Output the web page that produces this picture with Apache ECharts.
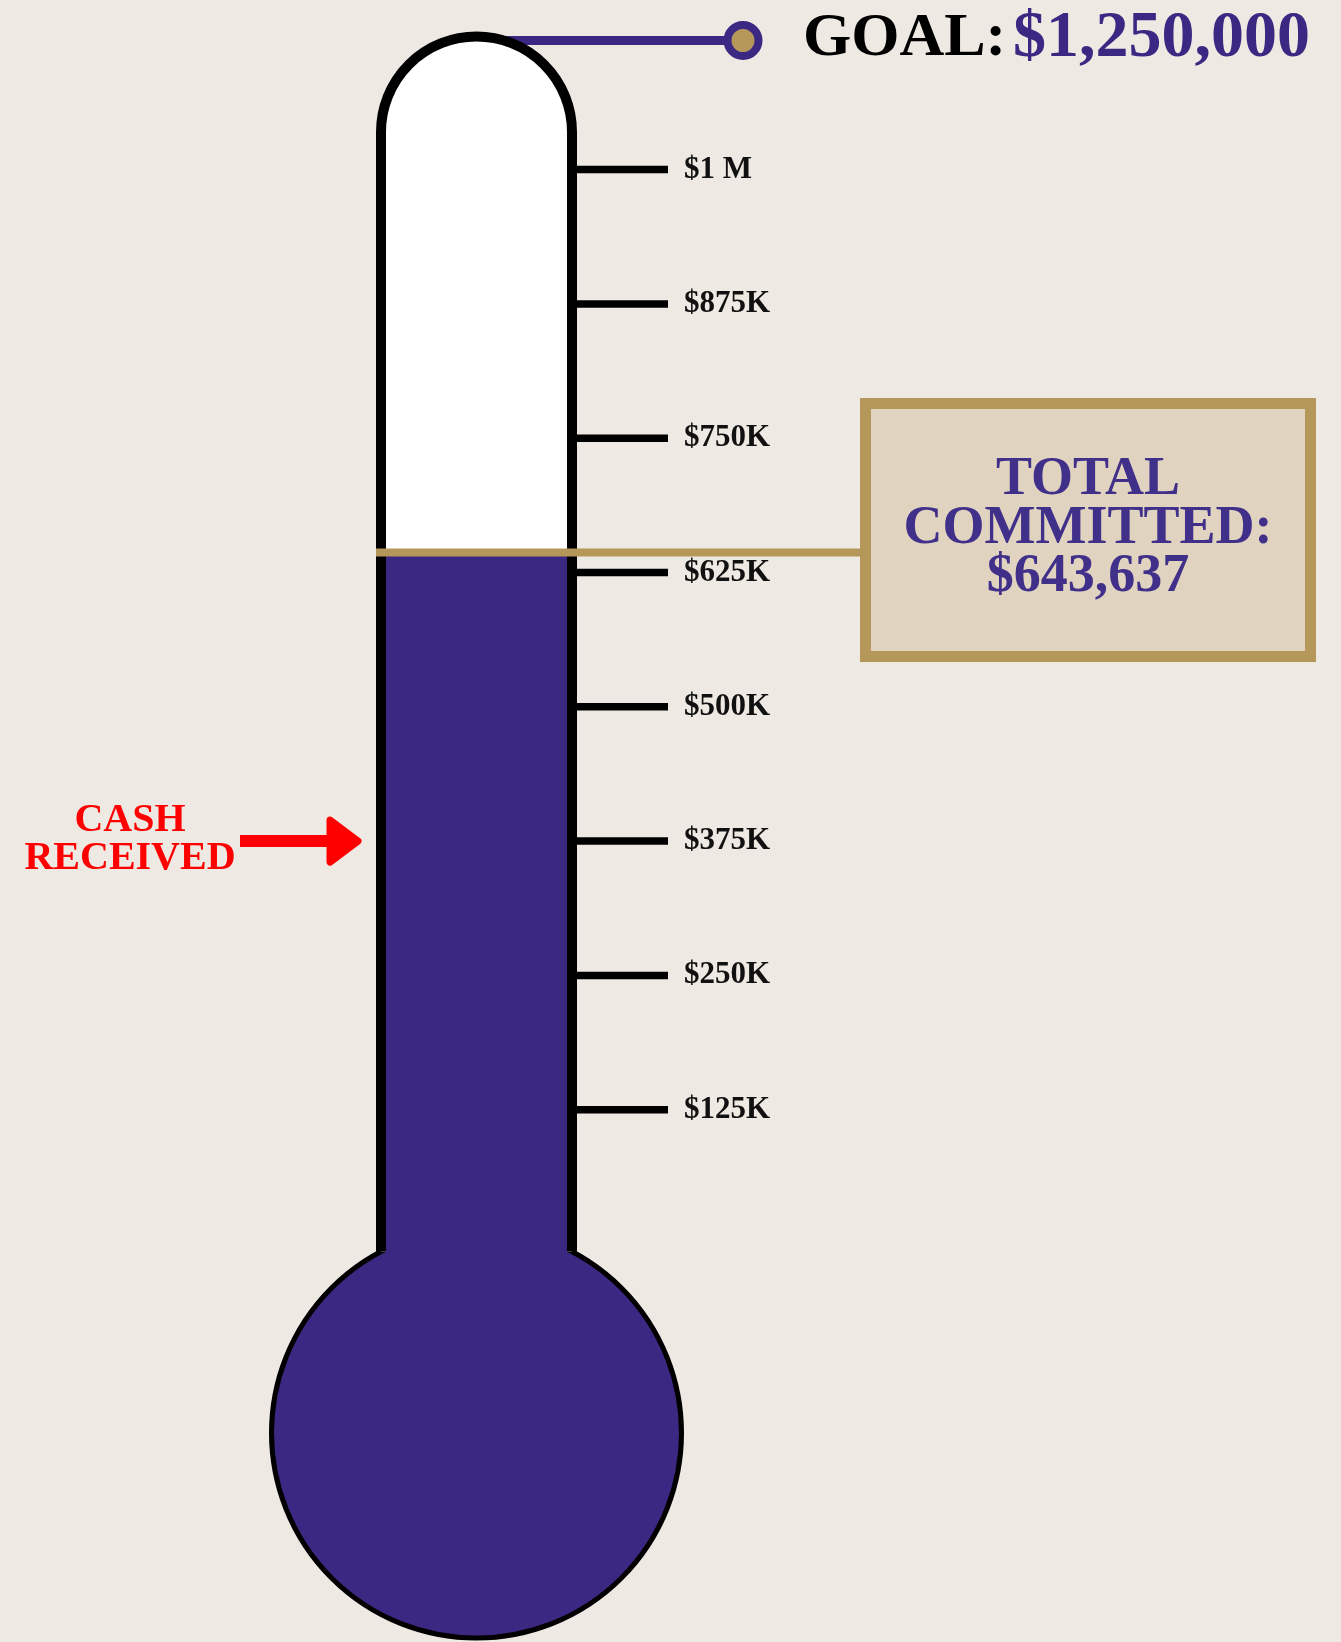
<!DOCTYPE html>
<html>
<head>
<meta charset="utf-8">
<script src="https://cdn.jsdelivr.net/npm/echarts@6/dist/echarts.min.js"></script>
<style>
  html, body { margin: 0; padding: 0; background: #efe9e3; }
  #chart { width: 1341px; height: 1642px; }
</style>
</head>
<body>
<div id="chart"></div>
<script>
// numbers off the poster
const goalAmount = 1250000;
const totalCommitted = 643637;
const cashReceived = 375000; // arrow points at the $375K mark
const tickValues = [1000000, 875000, 750000, 625000, 500000, 375000, 250000, 125000];
const tickLabels = ['$1 M', '$875K', '$750K', '$625K', '$500K', '$375K', '$250K', '$125K'];
const axisMax = 1035000; // top of the straight part of the tube

const PURPLE = '#3b2882';
const GOLD = '#b5975a';
const SERIF = '"Liberation Serif", "Times New Roman", serif';

function money(v) {
  return '$' + v.toLocaleString('en-US');
}

const chart = echarts.init(document.getElementById('chart'));

// tube, bulb, mercury, goal marker and the two callouts
function renderThermo(params, api) {
  const cs = params.coordSys;
  const cx = api.coord([0, 0])[0];
  const half = cs.width / 2;
  const wall = 10;
  const r = half - wall / 2;
  const xl = cx - r, xr = cx + r;
  const yTop = api.coord([0, axisMax])[1];
  const yZero = api.coord([0, 0])[1];
  const yLevel = api.coord([0, api.value(1)])[1];
  const yCash = api.coord([0, api.value(2)])[1];
  const bulbY = yZero + 189, bulbR = 205;
  const neckY = bulbY - Math.sqrt(bulbR * bulbR - r * r);
  const goalY = yTop - r - wall / 2 + 9;

  const kids = [];
  // goal line sits behind the tube cap
  kids.push({ type: 'line', shape: { x1: cx, y1: goalY, x2: 743, y2: goalY },
    style: { stroke: PURPLE, lineWidth: 9 } });
  kids.push({ type: 'circle', shape: { cx: 743, cy: goalY, r: 15.5 },
    style: { fill: GOLD, stroke: PURPLE, lineWidth: 8 } });
  kids.push({ type: 'text', style: { text: 'GOAL:', x: 803, y: goalY - 2, fill: '#000',
    font: 'bold 62px ' + SERIF, align: 'left', verticalAlign: 'middle' } });
  kids.push({ type: 'text', style: { text: money(api.value(3)), x: 1013, y: goalY - 2, fill: PURPLE,
    font: 'bold 66px ' + SERIF, align: 'left', verticalAlign: 'middle' } });

  // bulb
  kids.push({ type: 'circle', shape: { cx: cx, cy: bulbY, r: bulbR },
    style: { fill: PURPLE, stroke: '#000', lineWidth: 5 } });
  // empty tube
  kids.push({ type: 'rect', shape: { x: xl, y: yTop, width: xr - xl, height: neckY - yTop },
    style: { fill: '#fff' } });
  kids.push({ type: 'circle', shape: { cx: cx, cy: yTop, r: r }, style: { fill: '#fff' } });
  // mercury
  kids.push({ type: 'rect', shape: { x: xl + wall / 2, y: yLevel, width: xr - xl - wall, height: bulbY - yLevel },
    style: { fill: PURPLE } });
  // walls and cap
  kids.push({ type: 'line', shape: { x1: xl, y1: yTop, x2: xl, y2: neckY },
    style: { stroke: '#000', lineWidth: wall } });
  kids.push({ type: 'line', shape: { x1: xr, y1: yTop, x2: xr, y2: neckY },
    style: { stroke: '#000', lineWidth: wall } });
  kids.push({ type: 'arc', shape: { cx: cx, cy: yTop, r: r, startAngle: Math.PI, endAngle: Math.PI * 2, clockwise: true },
    style: { fill: null, stroke: '#000', lineWidth: wall } });

  // committed callout
  kids.push({ type: 'line', shape: { x1: cx - half, y1: yLevel, x2: 862, y2: yLevel },
    style: { stroke: GOLD, lineWidth: 8 } });
  kids.push({ type: 'rect', shape: { x: 865.5, y: 403.5, width: 445, height: 253 },
    style: { fill: '#e0d3bf', stroke: GOLD, lineWidth: 11 } });
  kids.push({ type: 'text', style: { text: 'TOTAL\nCOMMITTED:\n' + money(api.value(1)),
    x: 1088, y: 529, fill: '#40308a', font: 'bold 54px ' + SERIF, lineHeight: 48.5,
    align: 'center', verticalAlign: 'middle' } });

  // cash received arrow
  kids.push({ type: 'line', shape: { x1: 240, y1: yCash, x2: 332, y2: yCash },
    style: { stroke: '#fe0000', lineWidth: 12 } });
  kids.push({ type: 'polygon', shape: { points: [[330, yCash - 21], [358, yCash], [330, yCash + 21]] },
    style: { fill: '#fe0000', stroke: '#fe0000', lineWidth: 7, lineJoin: 'round' } });
  kids.push({ type: 'text', style: { text: 'CASH\nRECEIVED', x: 130, y: yCash - 1, fill: '#fe0000',
    font: 'bold 40px ' + SERIF, lineHeight: 38, align: 'center', verticalAlign: 'middle' } });

  return { type: 'group', children: kids };
}

function renderTick(params, api) {
  const cs = params.coordSys;
  const right = cs.x + cs.width;
  const y = api.coord([0, api.value(1)])[1];
  return {
    type: 'group',
    children: [
      { type: 'line', shape: { x1: right - 7, y1: y, x2: right + 91, y2: y },
        style: { stroke: '#000', lineWidth: 7.5 } },
      { type: 'text', style: { text: tickLabels[params.dataIndex], x: right + 107, y: y,
        fill: '#111', font: 'bold 31px ' + SERIF, align: 'left', verticalAlign: 'middle' } }
    ]
  };
}

chart.setOption({
  backgroundColor: '#efe9e3',
  animation: false,
  grid: { left: 376, width: 201, top: 132, bottom: 398 },
  xAxis: { type: 'category', data: ['Campaign'], show: false },
  yAxis: { type: 'value', min: 0, max: axisMax, show: false },
  series: [
    {
      type: 'custom',
      name: 'Thermometer',
      clip: false,
      z: 2,
      renderItem: renderThermo,
      data: [[0, totalCommitted, cashReceived, goalAmount]]
    },
    {
      type: 'custom',
      name: 'Ticks',
      clip: false,
      z: 3,
      renderItem: renderTick,
      data: tickValues.map(v => [0, v])
    }
  ]
});
</script>
</body>
</html>
